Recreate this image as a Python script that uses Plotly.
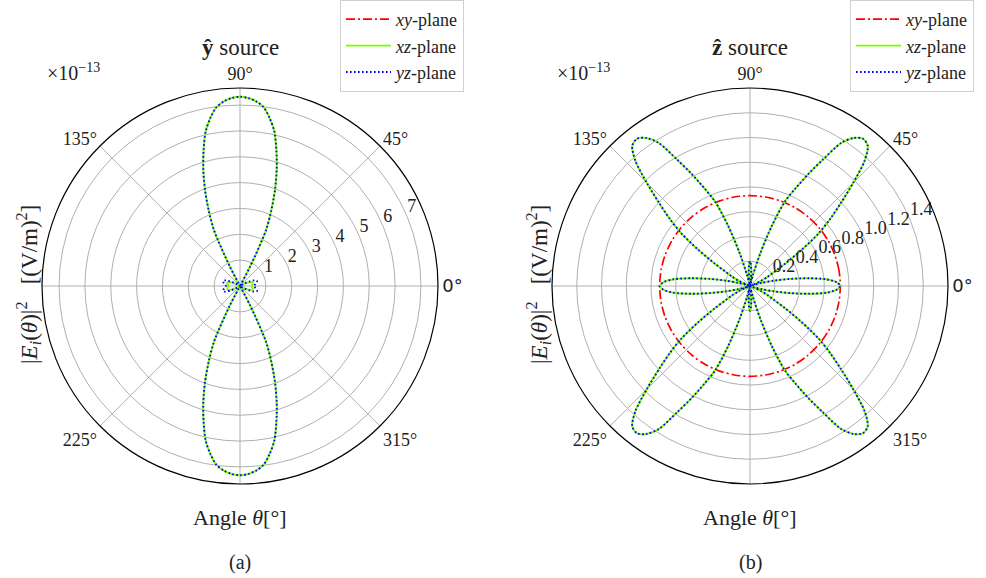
import plotly.graph_objects as go

W, H = 986, 578
SERIF = "Liberation Serif"

# angle grid for the lobed patterns (degrees)
theta = [i * 2.5 for i in range(145)]
# coarser grid for the flat xy-plane traces
theta_xy = [i * 10 for i in range(37)]

# ---- (a) y-directed source, |E|^2 in units of 1e-13 (V/m)^2 ----
xy_a = [0, 0, 0, 0, 0, 0, 0, 0, 0, 0, 0, 0, 0, 0, 0, 0, 0, 0, 0,
        0, 0, 0, 0, 0, 0, 0, 0, 0, 0, 0, 0, 0, 0, 0, 0, 0, 0]

xz_a = [
    0.45, 0.46, 0.47, 0.49, 0.50, 0.50, 0.50, 0.48, 0.44, 0.36, 0.26, 0.16, 0.08, 0.03, 0.01,
    0, 0, 0, 0, 0, 0, 0, 0, 0, 0,
    0.85, 2.38, 3.16, 3.96, 4.72, 5.44, 6.13, 6.60, 6.98, 7.17, 7.28, 7.32,
    7.28, 7.17, 6.98, 6.60, 6.13, 5.44, 4.72, 3.96, 3.16, 2.38, 0.85,
    0, 0, 0, 0, 0, 0, 0, 0, 0, 0,
    0.01, 0.03, 0.08, 0.16, 0.26, 0.36, 0.44, 0.48, 0.50, 0.50, 0.50, 0.49, 0.47, 0.46, 0.45,
    0.46, 0.47, 0.49, 0.50, 0.50, 0.50, 0.48, 0.44, 0.36, 0.26, 0.16, 0.08, 0.03, 0.01,
    0, 0, 0, 0, 0, 0, 0, 0, 0, 0,
    0.85, 2.38, 3.16, 3.96, 4.72, 5.44, 6.13, 6.60, 6.98, 7.17, 7.28, 7.32,
    7.28, 7.17, 6.98, 6.60, 6.13, 5.44, 4.72, 3.96, 3.16, 2.38, 0.85,
    0, 0, 0, 0, 0, 0, 0, 0, 0, 0,
    0.01, 0.03, 0.08, 0.16, 0.26, 0.36, 0.44, 0.48, 0.50, 0.50, 0.50, 0.49, 0.47, 0.46, 0.45,
]

yz_a = [
    0.55, 0.56, 0.58, 0.60, 0.63, 0.66, 0.68, 0.68, 0.64, 0.55, 0.42, 0.28, 0.15, 0.07, 0.02,
    0, 0, 0, 0, 0, 0, 0, 0, 0, 0,
    0.85, 2.38, 3.16, 3.96, 4.72, 5.44, 6.13, 6.60, 6.98, 7.17, 7.28, 7.32,
    7.28, 7.17, 6.98, 6.60, 6.13, 5.44, 4.72, 3.96, 3.16, 2.38, 0.85,
    0, 0, 0, 0, 0, 0, 0, 0, 0, 0,
    0.02, 0.07, 0.15, 0.28, 0.42, 0.55, 0.64, 0.68, 0.68, 0.66, 0.63, 0.60, 0.58, 0.56, 0.55,
    0.56, 0.58, 0.60, 0.63, 0.66, 0.68, 0.68, 0.64, 0.55, 0.42, 0.28, 0.15, 0.07, 0.02,
    0, 0, 0, 0, 0, 0, 0, 0, 0, 0,
    0.85, 2.38, 3.16, 3.96, 4.72, 5.44, 6.13, 6.60, 6.98, 7.17, 7.28, 7.32,
    7.28, 7.17, 6.98, 6.60, 6.13, 5.44, 4.72, 3.96, 3.16, 2.38, 0.85,
    0, 0, 0, 0, 0, 0, 0, 0, 0, 0,
    0.02, 0.07, 0.15, 0.28, 0.42, 0.55, 0.64, 0.68, 0.68, 0.66, 0.63, 0.60, 0.58, 0.56, 0.55,
]

# ---- (b) z-directed source ----
xy_b = [0.73, 0.73, 0.73, 0.73, 0.73, 0.73, 0.73, 0.73, 0.73, 0.73, 0.73, 0.73, 0.73,
        0.73, 0.73, 0.73, 0.73, 0.73, 0.73, 0.73, 0.73, 0.73, 0.73, 0.73, 0.73, 0.73,
        0.73, 0.73, 0.73, 0.73, 0.73, 0.73, 0.73, 0.73, 0.73, 0.73, 0.73]

xz_b = [
    0.73, 0.70, 0.62, 0.48, 0.33, 0.20, 0.10, 0.03, 0.00, 0.03, 0.10, 0.16, 0.22,
    0.34, 0.51, 0.70, 0.85, 1.00, 1.18, 1.37, 1.48, 1.50, 1.46, 1.37, 1.18,
    1.02, 0.87, 0.74, 0.52, 0.28, 0.09, 0.01, 0.02, 0.06, 0.12, 0.17, 0.20,
    0.17, 0.12, 0.06, 0.02, 0.01, 0.09, 0.28, 0.52, 0.74, 0.87, 1.02,
    1.18, 1.37, 1.46, 1.50, 1.48, 1.37, 1.18, 1.00, 0.85, 0.70, 0.51, 0.34,
    0.22, 0.16, 0.10, 0.03, 0.00, 0.03, 0.10, 0.20, 0.33, 0.48, 0.62, 0.70, 0.73,
    0.70, 0.62, 0.48, 0.33, 0.20, 0.10, 0.03, 0.00, 0.03, 0.10, 0.16, 0.22,
    0.34, 0.51, 0.70, 0.85, 1.00, 1.18, 1.37, 1.48, 1.50, 1.46, 1.37, 1.18,
    1.02, 0.87, 0.74, 0.52, 0.28, 0.09, 0.01, 0.02, 0.06, 0.12, 0.17, 0.20,
    0.17, 0.12, 0.06, 0.02, 0.01, 0.09, 0.28, 0.52, 0.74, 0.87, 1.02,
    1.18, 1.37, 1.46, 1.50, 1.48, 1.37, 1.18, 1.00, 0.85, 0.70, 0.51, 0.34,
    0.22, 0.16, 0.10, 0.03, 0.00, 0.03, 0.10, 0.20, 0.33, 0.48, 0.62, 0.70, 0.73,
]
# the xz and yz cuts coincide for the z source
yz_b = list(xz_b)

for arr in (xz_a, yz_a, xz_b, yz_b):
    assert len(arr) == len(theta)

# axis ticks
ang_ticks = [0, 45, 90, 135, 180, 225, 270, 315]
ang_text = ["<span style='font-family:DejaVu Sans'>0°</span>", "45°", "90°", "135°",
            "", "225°", "", "315°"]
r_label_angle = 22.5
r_ticks_a = [1, 2, 3, 4, 5, 6, 7]
r_text_a = ["1", "2", "3", "4", "5", "6", "7"]
r_ticks_b = [0.2, 0.4, 0.6, 0.8, 1.0, 1.2, 1.4]
r_text_b = ["0.2", "0.4", "0.6", "0.8", "1.0", "1.2", "1.4"]

names = ["<i>xy</i>-plane", "<i>xz</i>-plane", "<i>yz</i>-plane"]
styles = [
    dict(color="#ff0000", width=1.7, dash="9px,3px,2px,3px"),
    dict(color="#7cfc00", width=1.9),
    dict(color="#0000ff", width=1.9, dash="1.6px,2.4px"),
]

fig = go.Figure()


def add_set(data, polar, legend, rt, rtext):
    for (th, r), name, st in zip(data, names, styles):
        fig.add_trace(go.Scatterpolar(
            theta=th, r=r, mode="lines", name=name,
            line=dict(shape="spline", smoothing=0.8, **st),
            subplot=polar, legend=legend, hoverinfo="skip",
        ))
    # radial tick labels, set just above the 22.5° spoke
    fig.add_trace(go.Scatterpolar(
        r=rt, theta=[r_label_angle] * len(rt), mode="text", text=rtext,
        textposition="top right", textfont=dict(family=SERIF, size=18, color="#222"),
        subplot=polar, showlegend=False, hoverinfo="skip",
    ))


add_set([(theta_xy, xy_a), (theta, xz_a), (theta, yz_a)], "polar", "legend", r_ticks_a, r_text_a)
add_set([(theta_xy, xy_b), (theta, xz_b), (theta, yz_b)], "polar2", "legend2", r_ticks_b, r_text_b)


def polar_axes(dom_x, rmax, rt):
    return dict(
        domain=dict(x=dom_x, y=[94 / H, 490 / H]),
        bgcolor="white",
        angularaxis=dict(
            tickmode="array", tickvals=ang_ticks, ticktext=ang_text,
            ticks="", showline=True, linecolor="black", linewidth=1.2,
            gridcolor="#b0b0b0", gridwidth=0.8,
            tickfont=dict(family=SERIF, size=18, color="#222"),
            rotation=0, direction="counterclockwise",
        ),
        radialaxis=dict(
            range=[0, rmax], tickmode="array", tickvals=rt,
            angle=r_label_angle, showticklabels=False,
            ticks="", showline=False,
            gridcolor="#b0b0b0", gridwidth=0.8,
        ),
    )


def px(x, y):
    return x / W, 1 - y / H


annotations = []


def text(x, y, s, size, angle=0):
    ax, ay = px(x, y)
    annotations.append(dict(
        x=ax, y=ay, xref="paper", yref="paper", text=s, showarrow=False,
        xanchor="center", yanchor="middle", textangle=angle,
        font=dict(family=SERIF, size=size, color="#222"),
    ))


ylabel = ("|<i>E<sub>i</sub></i>(<i>θ</i>)|<sup>2</sup>"
          "\u00a0\u00a0\u00a0[(V/m)<sup>2</sup>]")

for cx, title, letter in [(240, "<b>ŷ</b> source", "(a)"), (750, "<b>ẑ</b> source", "(b)")]:
    text(cx, 47, title, 23)
    text(cx, 517, "Angle <i>θ</i>[°]", 22)
    text(cx, 562, letter, 20)
    text(cx - 167, 72, "×10<sup>−13</sup>", 20)
    text(cx - 212, 285, ylabel, 23, -90)

legend_style = dict(
    font=dict(family=SERIF, size=18, color="#222"),
    bgcolor="white", bordercolor="#d0d0d0", borderwidth=1,
    xanchor="left", yanchor="top", itemwidth=45,
)

fig.update_layout(
    width=W, height=H,
    margin=dict(l=0, r=0, t=0, b=0),
    paper_bgcolor="white",
    font=dict(family=SERIF),
    polar=polar_axes([42 / W, 438 / W], 7.66, r_ticks_a),
    polar2=polar_axes([552 / W, 948 / W], 1.6, r_ticks_b),
    legend=dict(x=340 / W, y=1.0, **legend_style),
    legend2=dict(x=850 / W, y=1.0, **legend_style),
    annotations=annotations,
    showlegend=True,
)

fig.write_html("out.html")
